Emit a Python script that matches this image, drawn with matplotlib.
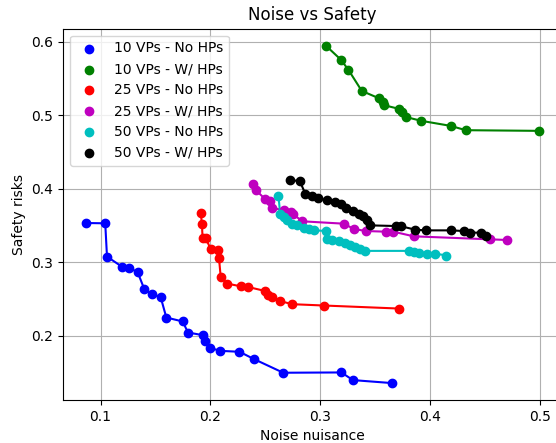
import matplotlib
matplotlib.use("Agg")
import matplotlib.pyplot as plt

# 10 VPs - No HPs
x_10_no = [0.0864, 0.1042, 0.1058, 0.1197, 0.1262, 0.1336, 0.1398, 0.1466, 0.1546,
           0.1598, 0.1747, 0.1795, 0.1931, 0.1951, 0.1996, 0.2086, 0.2264, 0.2397,
           0.2662, 0.3192, 0.3296, 0.3655]
y_10_no = [0.3534, 0.3530, 0.3077, 0.2937, 0.2919, 0.2869, 0.2633, 0.2566, 0.2529,
           0.2249, 0.2195, 0.2045, 0.2009, 0.1932, 0.1837, 0.1796, 0.1783, 0.1683,
           0.1498, 0.1502, 0.1398, 0.1357]

# 10 VPs - W/ HPs
x_10_w = [0.3050, 0.3186, 0.3254, 0.3377, 0.3532, 0.3571, 0.3580, 0.3716, 0.3739,
          0.3784, 0.3920, 0.4185, 0.4324, 0.4993]
y_10_w = [0.5946, 0.5756, 0.5620, 0.5330, 0.5231, 0.5176, 0.5136, 0.5086, 0.5041,
          0.4973, 0.4923, 0.4855, 0.4796, 0.4787]

# 25 VPs - No HPs
x_25_no = [0.1912, 0.1922, 0.1928, 0.1957, 0.2003, 0.2064, 0.2077, 0.2093, 0.2151,
           0.2274, 0.2339, 0.2494, 0.2526, 0.2559, 0.2636, 0.2746, 0.3034, 0.3713]
y_25_no = [0.3670, 0.3516, 0.3330, 0.3326, 0.3176, 0.3163, 0.3063, 0.2801, 0.2710,
           0.2674, 0.2665, 0.2611, 0.2561, 0.2525, 0.2471, 0.2430, 0.2412, 0.2371]

# 25 VPs - W/ HPs
x_25_w = [0.2387, 0.2416, 0.2494, 0.2539, 0.2559, 0.2669, 0.2733, 0.2753, 0.2837,
          0.3212, 0.3306, 0.3416, 0.3600, 0.3665, 0.3849, 0.4544, 0.4702]
y_25_w = [0.4068, 0.3977, 0.3864, 0.3833, 0.3742, 0.3706, 0.3683, 0.3652, 0.3557,
          0.3525, 0.3452, 0.3425, 0.3416, 0.3416, 0.3353, 0.3312, 0.3303]

# 50 VPs - No HPs
x_50_no = [0.2619, 0.2634, 0.2665, 0.2695, 0.2741, 0.2786, 0.2847, 0.2893, 0.2938,
           0.3051, 0.3060, 0.3106, 0.3166, 0.3227, 0.3273, 0.3318, 0.3364, 0.3409,
           0.3804, 0.3850, 0.3895, 0.3972, 0.4047, 0.4148]
y_50_no = [0.3897, 0.3662, 0.3616, 0.3571, 0.3526, 0.3503, 0.3472, 0.3458, 0.3435,
           0.3426, 0.3323, 0.3300, 0.3291, 0.3263, 0.3232, 0.3209, 0.3187, 0.3155,
           0.3155, 0.3141, 0.3127, 0.3118, 0.3118, 0.3092]

# 50 VPs - W/ HPs
x_50_w = [0.2727, 0.2814, 0.2863, 0.2927, 0.2976, 0.3057, 0.3137, 0.3186, 0.3234,
          0.3299, 0.3348, 0.3386, 0.3428, 0.3451, 0.3687, 0.3736, 0.3865, 0.3962,
          0.4188, 0.4305, 0.4366, 0.4466, 0.4505]
y_50_w = [0.4122, 0.4100, 0.3932, 0.3896, 0.3878, 0.3842, 0.3819, 0.3796, 0.3742,
          0.3697, 0.3661, 0.3624, 0.3570, 0.3502, 0.3493, 0.3489, 0.3443, 0.3434,
          0.3434, 0.3425, 0.3403, 0.3403, 0.3357]

series = [
    (x_10_no, y_10_no, "b", "10 VPs - No HPs"),
    (x_10_w, y_10_w, "g", "10 VPs - W/ HPs"),
    (x_25_no, y_25_no, "r", "25 VPs - No HPs"),
    (x_25_w, y_25_w, "m", "25 VPs - W/ HPs"),
    (x_50_no, y_50_no, "c", "50 VPs - No HPs"),
    (x_50_w, y_50_w, "k", "50 VPs - W/ HPs"),
]

fig = plt.figure(figsize=(5.56, 4.43), dpi=100)
ax = fig.add_axes([0.1133, 0.0971, 0.8975, 0.838])

for xs, ys, c, lab in series:
    ax.scatter(xs, ys, color=c, label=lab, zorder=3)
    ax.plot(xs, ys, color=c, zorder=2)

ax.set_title("Noise vs Safety")
ax.set_xlabel("Noise nuisance")
ax.set_ylabel("Safety risks")
ax.grid(True)
ax.legend(loc="upper left")

fig.savefig("out.png", dpi=100)
